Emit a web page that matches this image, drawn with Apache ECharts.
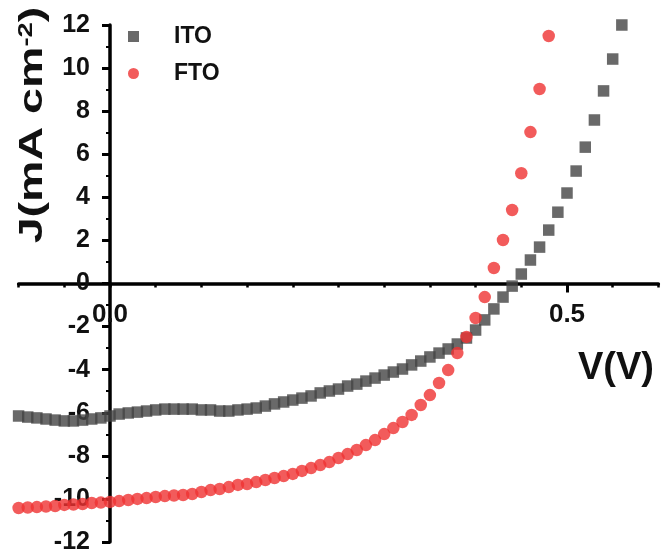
<!DOCTYPE html>
<html><head><meta charset="utf-8">
<script src="https://cdn.jsdelivr.net/npm/echarts@6/dist/echarts.min.js"></script>
<style>html,body{margin:0;padding:0;background:#fff}#c{width:665px;height:555px}</style>
</head><body><div id="c"></div>
<script>
// ---- data ----
const V_ITO = [-0.10,-0.09,-0.08,-0.07,-0.06,-0.05,-0.04,-0.03,-0.02,-0.01,
  0.00,0.01,0.02,0.03,0.04,0.05,0.06,0.07,0.08,0.09,
  0.10,0.11,0.12,0.13,0.14,0.15,0.16,0.17,0.18,0.19,
  0.20,0.21,0.22,0.23,0.24,0.25,0.26,0.27,0.28,0.29,
  0.30,0.31,0.32,0.33,0.34,0.35,0.36,0.37,0.38,0.39,
  0.40,0.41,0.42,0.43,0.44,0.45,0.46,0.47,0.48,0.49,
  0.50,0.51,0.52,0.53,0.54,0.55,0.56];
const J_ITO = [-6.15,-6.20,-6.24,-6.29,-6.34,-6.38,-6.38,-6.34,-6.29,-6.24,
  -6.15,-6.06,-6.01,-5.97,-5.92,-5.87,-5.83,-5.83,-5.83,-5.83,
  -5.87,-5.87,-5.92,-5.92,-5.87,-5.83,-5.78,-5.69,-5.59,-5.50,
  -5.41,-5.32,-5.22,-5.08,-4.99,-4.90,-4.76,-4.67,-4.53,-4.39,
  -4.25,-4.11,-3.97,-3.78,-3.60,-3.41,-3.23,-3.04,-2.81,-2.53,
  -2.16,-1.69,-1.18,-0.63,-0.12,0.44,1.09,1.69,2.48,3.31,
  4.20,5.22,6.33,7.59,8.94,10.42,12.0];
const V_FTO = [-0.10,-0.09,-0.08,-0.07,-0.06,-0.05,-0.04,-0.03,-0.02,-0.01,
  0.00,0.01,0.02,0.03,0.04,0.05,0.06,0.07,0.08,0.09,
  0.10,0.11,0.12,0.13,0.14,0.15,0.16,0.17,0.18,0.19,
  0.20,0.21,0.22,0.23,0.24,0.25,0.26,0.27,0.28,0.29,
  0.30,0.31,0.32,0.33,0.34,0.35,0.36,0.37,0.38,0.39,
  0.40,0.41,0.42,0.43,0.44,0.45,0.46,0.47,0.48];
const J_FTO = [-10.42,-10.40,-10.38,-10.35,-10.33,-10.28,-10.26,-10.24,-10.19,-10.17,
  -10.14,-10.10,-10.05,-10.00,-9.96,-9.91,-9.87,-9.84,-9.82,-9.77,
  -9.68,-9.59,-9.54,-9.45,-9.35,-9.31,-9.22,-9.12,-9.03,-8.94,
  -8.84,-8.70,-8.57,-8.43,-8.29,-8.10,-7.92,-7.73,-7.50,-7.27,
  -6.99,-6.71,-6.43,-6.10,-5.64,-5.18,-4.62,-4.02,-3.23,-2.48,
  -1.60,-0.63,0.72,2.02,3.41,5.12,7.03,9.03,11.49];
const SERIES_NAMES = ['ITO', 'FTO'];
const X_LABELS = [0, 0.5];
const X_TITLE = 'V(V)';
const Y_TITLE_MAIN = 'J(mA cm';
const Y_TITLE_SUP = '-2';

const FONT = 'Liberation Sans';
// layout (pixels)
const G_LEFT = 18.6, G_RIGHT = 6.6, G_TOP = 25, G_BOTTOM = 13;
const X_AXIS_SHIFT = -258.5;  // move x axis from grid bottom up to J = 0
const Y_AXIS_SHIFT = -91.4;   // move y axis from grid left right to V = 0

const chart = echarts.init(document.getElementById('c'), null, {renderer: 'canvas'});
chart.setOption({
  animation: false,
  backgroundColor: '#fff',
  grid: {left: G_LEFT, right: G_RIGHT, top: G_TOP, bottom: G_BOTTOM, containLabel: false, outerBoundsMode: 'none'},
  legend: {
    orient: 'vertical', left: 128, top: 25, padding: 0,
    itemWidth: 11, itemHeight: 11, itemGap: 14,
    data: [{name: SERIES_NAMES[0], icon: 'rect'}, {name: SERIES_NAMES[1], icon: 'circle'}],
    formatter: n => '{sp|}' + n,
    textStyle: {fontSize: 23, fontWeight: 'bold', color: '#111', fontFamily: FONT, rich: {sp: {width: 30}}}
  },
  xAxis: [{
    type: 'value', min: -0.1, max: 0.6, interval: 0.05,
    position: 'bottom', offset: X_AXIS_SHIFT,
    axisLine: {onZero: false, lineStyle: {color: '#000', width: 3.5}},
    axisTick: {show: true, inside: false, length: 4, lineStyle: {color: '#000', width: 2.5}},
    axisLabel: {
      show: true, margin: 18, fontSize: 26, fontWeight: 'bold', color: '#111', fontFamily: FONT,
      formatter: v => {
        for (const t of X_LABELS) if (Math.abs(v - t) < 1e-6) return t.toFixed(1);
        return '';
      }
    },
    splitLine: {show: false}
  }, {
    type: 'value', min: -0.1, max: 0.6,
    position: 'bottom', offset: X_AXIS_SHIFT,
    axisLine: {show: false, onZero: false},
    axisTick: {show: true, length: 9, customValues: [0.5], lineStyle: {color: '#000', width: 3}},
    axisLabel: {show: false},
    splitLine: {show: false}
  }],
  yAxis: {
    type: 'value', min: -12, max: 12, interval: 2,
    position: 'left', offset: Y_AXIS_SHIFT,
    axisLine: {onZero: false, lineStyle: {color: '#000', width: 3.5}},
    axisTick: {show: true, length: 8, lineStyle: {color: '#000', width: 3}},
    minorTick: {show: true, splitNumber: 2, length: 4, lineStyle: {color: '#000', width: 2}},
    axisLabel: {show: true, margin: 20, fontSize: 25, fontWeight: 'bold', color: '#111', fontFamily: FONT},
    splitLine: {show: false}, minorSplitLine: {show: false}
  },
  series: [{
    name: SERIES_NAMES[0], type: 'scatter', xAxisIndex: 0,
    data: V_ITO.map((v, i) => [v, J_ITO[i]]),
    symbol: 'rect', symbolSize: 11.5, itemStyle: {color: '#444444'}
  }, {
    name: SERIES_NAMES[1], type: 'scatter', xAxisIndex: 0,
    data: V_FTO.map((v, i) => [v, J_FTO[i]]),
    symbol: 'circle', symbolSize: 12.5, itemStyle: {color: '#ef3232'}
  }],
  graphic: [{
    type: 'text', x: 33, y: 125, rotation: Math.PI / 2, scaleX: 1.37,
    style: {
      text: '{n|' + Y_TITLE_MAIN + '}{s|' + Y_TITLE_SUP + '}{n|)}',
      textAlign: 'center', textVerticalAlign: 'middle',
      rich: {
        n: {fontSize: 34, fontWeight: 'bold', fontFamily: FONT, fill: '#111'},
        s: {fontSize: 20, fontWeight: 'bold', fontFamily: FONT, fill: '#111', verticalAlign: 'top'}
      }
    }
  }, {
    type: 'text', x: 578, y: 369,
    style: {text: X_TITLE, fontSize: 38, fontWeight: 'bold', fontFamily: FONT, fill: '#111', textAlign: 'left', textVerticalAlign: 'middle'}
  }]
});
</script>
</body></html>
